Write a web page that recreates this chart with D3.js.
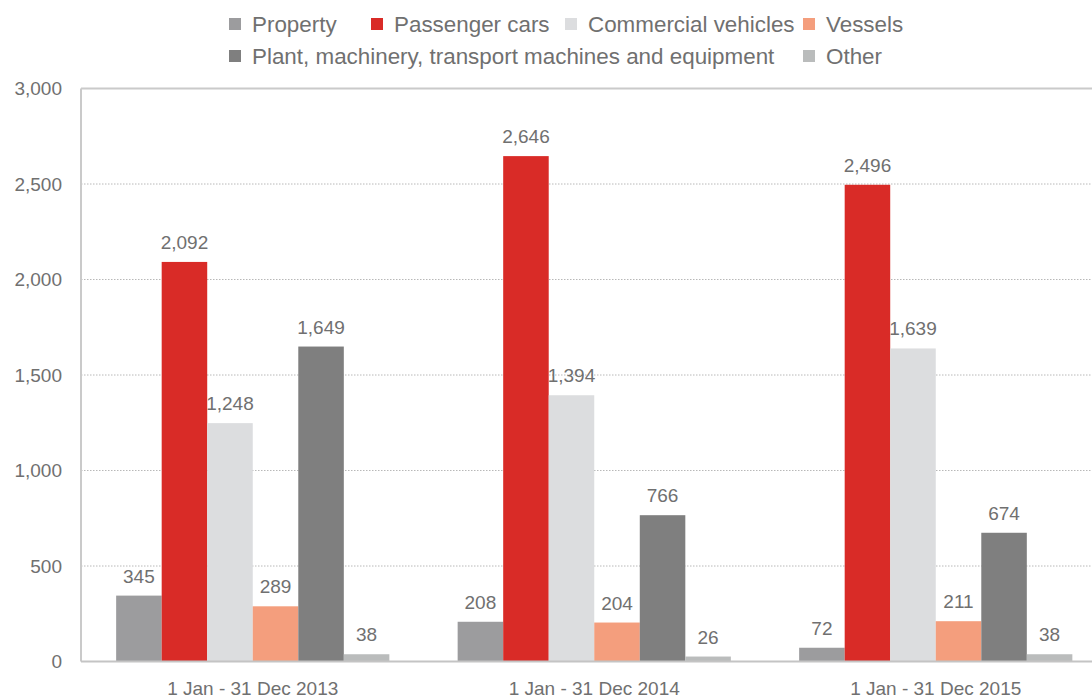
<!DOCTYPE html>
<html>
<head>
<meta charset="utf-8">
<script src="https://cdn.jsdelivr.net/npm/d3@7/dist/d3.min.js"></script>
<style>
  html, body { margin: 0; padding: 0; background: #ffffff; }
  svg { display: block; font-family: "Liberation Sans", Arial, Helvetica, sans-serif; }
</style>
</head>
<body>
<svg id="chart" width="1092" height="699"></svg>
<script>
// Periods on the x axis
const periods = ["1 Jan - 31 Dec 2013", "1 Jan - 31 Dec 2014", "1 Jan - 31 Dec 2015"];

// Asset classes (series)
const seriesNames = [
  "Property",
  "Passenger cars",
  "Commercial vehicles",
  "Vessels",
  "Plant, machinery, transport machines and equipment",
  "Other"
];

// Values per series, one entry per period
const property           = [345, 208, 72];
const passengerCars      = [2092, 2646, 2496];
const commercialVehicles = [1248, 1394, 1639];
const vessels            = [289, 204, 211];
const plantMachinery     = [1649, 766, 674];
const other              = [38, 26, 38];

const seriesValues = [property, passengerCars, commercialVehicles, vessels, plantMachinery, other];

// Y axis ticks
const yTicks = [0, 500, 1000, 1500, 2000, 2500, 3000];

const colors = ["#9c9c9e", "#d92b27", "#dcdddf", "#f49e7d", "#7f7f7f", "#babcbc"];
const textColor = "#707070";
const fmt = d3.format(",");

const svg = d3.select("#chart");

const plot = { left: 81, right: 1106.5, top: 88.5, bottom: 661.5 };

const x0 = d3.scaleBand()
  .domain(periods)
  .range([plot.left + 1, plot.right])
  .paddingInner(0.2)
  .paddingOuter(0.1);

const x1 = d3.scaleBand()
  .domain(seriesNames)
  .range([0, x0.bandwidth()])
  .padding(0);

const y = d3.scaleLinear()
  .domain([0, 3000])
  .range([plot.bottom, plot.top]);

// Dotted gridlines
svg.append("g")
  .selectAll("line")
  .data(yTicks.filter(t => t > 0 && t < 3000))
  .join("line")
  .attr("x1", plot.left)
  .attr("x2", plot.right)
  .attr("y1", d => y(d))
  .attr("y2", d => y(d))
  .attr("stroke", "#b8b8b8")
  .attr("stroke-width", 1)
  .attr("stroke-dasharray", "1.5,1.5");

// Frame: top and left border
svg.append("line")
  .attr("x1", plot.left).attr("x2", plot.right)
  .attr("y1", y(3000)).attr("y2", y(3000))
  .attr("stroke", "#cacaca").attr("stroke-width", 2);
svg.append("line")
  .attr("x1", plot.left).attr("x2", plot.left)
  .attr("y1", y(3000)).attr("y2", y(0))
  .attr("stroke", "#cacaca").attr("stroke-width", 2);

// Y axis labels
const yAxis = d3.axisLeft(y)
  .tickValues(yTicks)
  .tickFormat(fmt)
  .tickSize(0)
  .tickPadding(19);
const gy = svg.append("g")
  .attr("transform", `translate(${plot.left},0)`)
  .call(yAxis);
gy.select(".domain").remove();
gy.selectAll("text")
  .attr("fill", textColor)
  .attr("font-size", 19)
  .attr("font-family", "Liberation Sans, Arial, sans-serif");

// Bars
const groups = svg.append("g")
  .selectAll("g")
  .data(periods)
  .join("g")
  .attr("transform", d => `translate(${x0(d)},0)`);

groups.selectAll("rect")
  .data((p, i) => seriesNames.map((s, k) => ({ series: s, k, value: seriesValues[k][i] })))
  .join("rect")
  .attr("x", d => x1(d.series))
  .attr("width", x1.bandwidth())
  .attr("y", d => y(d.value))
  .attr("height", d => y(0) - y(d.value))
  .attr("fill", d => colors[d.k]);

groups.selectAll("text.val")
  .data((p, i) => seriesNames.map((s, k) => ({ series: s, k, value: seriesValues[k][i] })))
  .join("text")
  .attr("class", "val")
  .attr("x", d => x1(d.series) + x1.bandwidth() / 2)
  .attr("y", d => y(d.value) - 13)
  .attr("text-anchor", "middle")
  .attr("font-size", 19)
  .attr("fill", textColor)
  .text(d => fmt(d.value));

// Baseline
svg.append("line")
  .attr("x1", plot.left).attr("x2", plot.right)
  .attr("y1", y(0)).attr("y2", y(0))
  .attr("stroke", "#c4c4c4").attr("stroke-width", 2);

// X axis labels
const xAxis = d3.axisBottom(x0).tickSize(0).tickPadding(20);
const gx = svg.append("g")
  .attr("transform", `translate(0,${y(0)})`)
  .call(xAxis);
gx.select(".domain").remove();
gx.selectAll("text")
  .attr("fill", textColor)
  .attr("font-size", 19)
  .attr("font-family", "Liberation Sans, Arial, sans-serif");

// Legend, two rows
const legendPos = [
  { x: 229, y: 24 }, { x: 371, y: 24 }, { x: 565, y: 24 }, { x: 803, y: 24 },
  { x: 229, y: 56 }, { x: 803, y: 56 }
];
const legend = svg.append("g")
  .selectAll("g")
  .data(seriesNames)
  .join("g")
  .attr("transform", (d, i) => `translate(${legendPos[i].x},${legendPos[i].y})`);
legend.append("rect")
  .attr("x", 0).attr("y", -6)
  .attr("width", 12).attr("height", 12)
  .attr("fill", (d, i) => colors[i]);
legend.append("text")
  .attr("x", 23)
  .attr("y", 0)
  .attr("dy", "0.35em")
  .attr("font-size", 22.4)
  .attr("fill", textColor)
  .text(d => d);
</script>
</body>
</html>
